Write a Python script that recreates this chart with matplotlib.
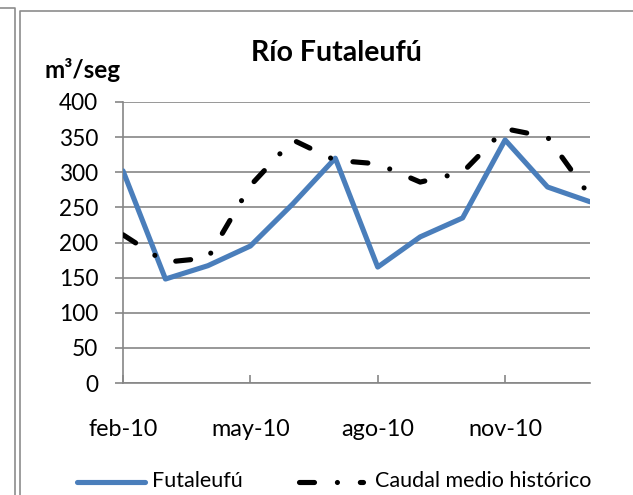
import matplotlib
matplotlib.use('Agg')
import matplotlib.pyplot as plt
from matplotlib.lines import Line2D

plt.rcParams['font.family'] = ['Lato', 'DejaVu Sans']
plt.rcParams['lines.scale_dashes'] = False

meses = ['feb-10', 'mar-10', 'abr-10', 'may-10', 'jun-10', 'jul-10',
         'ago-10', 'sep-10', 'oct-10', 'nov-10', 'dic-10', 'ene-11']
futaleufu = [302, 148, 167, 195, 255, 320, 165, 208, 235, 346, 279, 258]
historico = [211, 172, 178, 281, 346, 317, 312, 286, 300, 362, 350, 266]
etiquetas_x = ['feb-10', 'may-10', 'ago-10', 'nov-10']
ticks_y = [0, 50, 100, 150, 200, 250, 300, 350, 400]

W, H = 633, 495
fig = plt.figure(figsize=(W / 100, H / 100), dpi=100)

def px(x0, y0, x1, y1):
    # caja en pixeles (desde arriba) -> fraccion de figura
    return [x0 / W, 1 - y1 / H, (x1 - x0) / W, (y1 - y0) / H]

ax = fig.add_axes(px(123, 102, 590, 383))
x = list(range(len(meses)))
patron = (0, (10.8, 16.5, 0.01, 16.5))

ax.plot(x, futaleufu, color='#4A7EBB', lw=3.7, solid_capstyle='round',
        solid_joinstyle='round', label='Futaleufú', zorder=3)
ax.plot(x, historico, color='black', lw=3.7, ls=patron, dash_capstyle='round',
        label='Caudal medio histórico', zorder=3)

ax.set_xlim(0, 11)
ax.set_ylim(0, 400)
ax.set_yticks(ticks_y)
ax.set_xticks([meses.index(m) for m in etiquetas_x])
ax.set_xticklabels(etiquetas_x)
ax.grid(axis='y', color='#868686', lw=1.2)
ax.set_axisbelow(True)
for s in ['top', 'right']:
    ax.spines[s].set_visible(False)
for s in ['left', 'bottom']:
    ax.spines[s].set_color('#868686')
    ax.spines[s].set_linewidth(1.2)
ax.tick_params(axis='y', direction='out', length=5.8, width=1.2, color='#868686',
               labelsize=16.3, pad=12)
ax.tick_params(axis='x', direction='in', length=5.8, width=1.2, color='#868686',
               labelsize=16.8, pad=26)

fig.text(336 / W, 1 - 53 / H, 'Río Futaleufú', ha='center', va='center',
         fontsize=20.5, fontweight='bold')
fig.text(45 / W, 1 - 70 / H, 'm³/seg', ha='left', va='center',
         fontsize=17.5, fontweight='bold')

# leyenda a mano
ax_leg = fig.add_axes([0, 0, 1, 1], facecolor='none')
ax_leg.set_xlim(0, W)
ax_leg.set_ylim(H, 0)
ax_leg.axis('off')
ax_leg.plot([77, 145], [482, 482], color='#4A7EBB', lw=3.7, solid_capstyle='round')
ax_leg.text(152, 481, 'Futaleufú', va='center', ha='left', fontsize=15.5)
ax_leg.plot([299, 363], [482, 482], color='black', lw=3.7, ls=patron,
            dash_capstyle='round')
ax_leg.text(375, 481, 'Caudal medio histórico', va='center', ha='left', fontsize=15.5)

# bordes del grafico
gris = '#8c8c8c'
fig.add_artist(Line2D([0, 15 / W, 15 / W], [1 - 8 / H, 1 - 8 / H, 0],
                      transform=fig.transFigure, color=gris, lw=1.2))
fig.add_artist(Line2D([20 / W, 20 / W, 1], [0, 1 - 11 / H, 1 - 11 / H],
                      transform=fig.transFigure, color=gris, lw=1.2))

fig.savefig('out.png', dpi=100)
